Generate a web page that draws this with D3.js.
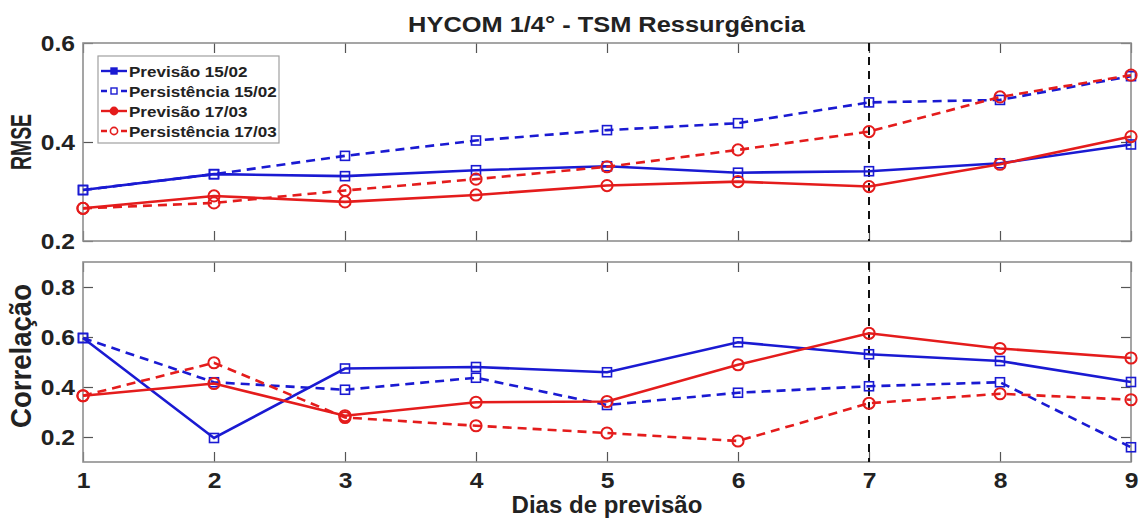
<!DOCTYPE html>
<html>
<head>
<meta charset="utf-8">
<script src="https://cdn.jsdelivr.net/npm/d3@7"></script>
<style>
  html, body { margin: 0; padding: 0; background: #fff; }
  svg { display: block; font-family: "Liberation Sans", Arial, Helvetica, sans-serif; }
</style>
</head>
<body>
<script>
// Forecast lead time (days)
const days = [1, 2, 3, 4, 5, 6, 7, 8, 9];

// RMSE of SST, upwelling region
const rmsePrev1502 = [0.303, 0.335, 0.331, 0.343, 0.351, 0.338, 0.341, 0.357, 0.395];
const rmsePers1502 = [0.303, 0.335, 0.372, 0.403, 0.424, 0.438, 0.480, 0.485, 0.533];
const rmsePrev1703 = [0.266, 0.291, 0.279, 0.293, 0.312, 0.320, 0.310, 0.355, 0.411];
const rmsePers1703 = [0.266, 0.277, 0.302, 0.325, 0.350, 0.384, 0.421, 0.491, 0.535];

// Correlation of SST, upwelling region
const corrPrev1502 = [0.596, 0.196, 0.474, 0.480, 0.459, 0.579, 0.531, 0.504, 0.420];
const corrPers1502 = [0.596, 0.419, 0.389, 0.437, 0.328, 0.377, 0.403, 0.419, 0.159];
const corrPrev1703 = [0.365, 0.414, 0.285, 0.339, 0.342, 0.489, 0.615, 0.554, 0.516];
const corrPers1703 = [0.365, 0.497, 0.278, 0.245, 0.216, 0.184, 0.335, 0.373, 0.349];

const seriesNames = ["Previsão 15/02", "Persistência 15/02", "Previsão 17/03", "Persistência 17/03"];
const rmseTicks = [0.2, 0.4, 0.6];
const corrTicks = [0.2, 0.4, 0.6, 0.8];
const markerDay = 7;

const titleText = "HYCOM 1/4° - TSM Ressurgência";
const xLabel = "Dias de previsão";

// ---- drawing ----
const W = 1143, H = 520;
const BLUE = "#1a1ad2", RED = "#e41c1c", TXT = "#222";
const styles = [
  { color: BLUE, dash: null, marker: "square" },
  { color: BLUE, dash: "9,6", marker: "square" },
  { color: RED, dash: null, marker: "circle" },
  { color: RED, dash: "9,6", marker: "circle" }
];

const svg = d3.select("body").append("svg")
  .attr("width", W).attr("height", H);
svg.append("rect").attr("width", W).attr("height", H).attr("fill", "#fff");

const x = d3.scaleLinear().domain([1, 9]).range([83, 1131]);

// stretch text horizontally about its anchor
function stretch(sel, sx) {
  sel.each(function () {
    const t = d3.select(this);
    const tx = +t.attr("x") || 0, ty = +t.attr("y") || 0;
    t.attr("x", 0).attr("y", 0)
      .attr("transform", `translate(${tx},${ty}) scale(${sx},1)`);
  });
}

const panels = [
  { y: d3.scaleLinear().domain([0.2, 0.6]).range([241, 43]), ticks: rmseTicks,
    data: [rmsePrev1502, rmsePers1502, rmsePrev1703, rmsePers1703],
    label: "RMSE", labelLen: 56, labelY: 142, xLabels: false },
  { y: d3.scaleLinear().domain([0.1, 0.9]).range([462, 262]), ticks: corrTicks,
    data: [corrPrev1502, corrPers1502, corrPrev1703, corrPers1703],
    label: "Correlação", labelLen: 144, labelY: 356, xLabels: true }
];

panels.forEach(p => {
  const g = svg.append("g");
  const [yb, yt] = p.y.range();

  // inward ticks on all four sides
  const tickStyle = sel => {
    sel.select(".domain").remove();
    sel.selectAll(".tick line").attr("stroke", "#555").attr("stroke-width", 1.2);
  };
  const left = g.append("g").attr("transform", `translate(${x(1)},0)`)
    .call(d3.axisLeft(p.y).tickValues(p.ticks).tickSizeInner(-10).tickSizeOuter(0)
      .tickPadding(8).tickFormat(d3.format(".1f")));
  tickStyle(left);
  left.selectAll("text").attr("fill", TXT).attr("font-size", 22).attr("font-weight", "bold");
  stretch(left.selectAll("text"), 1.12);

  const right = g.append("g").attr("transform", `translate(${x(9)},0)`)
    .call(d3.axisRight(p.y).tickValues(p.ticks).tickSizeInner(-10).tickSizeOuter(0).tickFormat(""));
  tickStyle(right);

  const top = g.append("g").attr("transform", `translate(0,${yt})`)
    .call(d3.axisTop(x).tickValues(days).tickSizeInner(-10).tickSizeOuter(0).tickFormat(""));
  tickStyle(top);

  const bottom = g.append("g").attr("transform", `translate(0,${yb})`)
    .call(d3.axisBottom(x).tickValues(days).tickSizeInner(-10).tickSizeOuter(0)
      .tickPadding(10).tickFormat(p.xLabels ? d3.format("d") : ""));
  tickStyle(bottom);
  bottom.selectAll("text").attr("fill", TXT).attr("font-size", 22).attr("font-weight", "bold");
  if (p.xLabels) stretch(bottom.selectAll("text"), 1.12);

  // box
  g.append("rect")
    .attr("x", x(1)).attr("y", yt)
    .attr("width", x(9) - x(1)).attr("height", yb - yt)
    .attr("fill", "none").attr("stroke", "#8f8f8f").attr("stroke-width", 1.6);

  // y label
  g.append("text")
    .attr("transform", `translate(31,${p.labelY}) scale(1.25,1) rotate(-90)`)
    .attr("text-anchor", "middle")
    .attr("font-size", 23).attr("font-weight", "bold").attr("fill", TXT)
    .attr("textLength", p.labelLen).attr("lengthAdjust", "spacingAndGlyphs")
    .text(p.label);

  // reference line at day 7
  g.append("line")
    .attr("x1", x(markerDay)).attr("x2", x(markerDay))
    .attr("y1", yt).attr("y2", yb)
    .attr("stroke", "#111").attr("stroke-width", 2).attr("stroke-dasharray", "8,6");

  // series
  const line = d3.line().x((d, i) => x(days[i])).y(d => p.y(d));
  p.data.forEach((vals, k) => {
    const s = styles[k];
    g.append("path").datum(vals)
      .attr("d", line)
      .attr("fill", "none").attr("stroke", s.color).attr("stroke-width", 2.6)
      .attr("stroke-dasharray", s.dash);
    const m = g.append("g");
    vals.forEach((v, i) => {
      if (s.marker === "square") {
        m.append("rect")
          .attr("x", x(days[i]) - 4.5).attr("y", p.y(v) - 4.5)
          .attr("width", 9).attr("height", 9)
          .attr("fill", "none").attr("stroke", s.color).attr("stroke-width", 1.6);
      } else {
        m.append("circle")
          .attr("cx", x(days[i])).attr("cy", p.y(v)).attr("r", 5.6)
          .attr("fill", "none").attr("stroke", s.color).attr("stroke-width", 2);
      }
    });
  });
});

// legend
const lg = svg.append("g");
lg.append("rect").attr("x", 98).attr("y", 56).attr("width", 181).attr("height", 87)
  .attr("fill", "#fff").attr("stroke", "#a0a0a0").attr("stroke-width", 1.2);
seriesNames.forEach((name, k) => {
  const s = styles[k];
  const cy = 71 + k * 20;
  lg.append("line").attr("x1", 101).attr("x2", 127).attr("y1", cy).attr("y2", cy)
    .attr("stroke", s.color).attr("stroke-width", 2.4)
    .attr("stroke-dasharray", s.dash ? "6,4" : null);
  const filled = k % 2 === 0;
  if (s.marker === "square") {
    lg.append("rect").attr("x", 111).attr("y", cy - 3).attr("width", 6).attr("height", 6)
      .attr("fill", filled ? s.color : "#fff").attr("stroke", s.color).attr("stroke-width", 1.4);
  } else {
    lg.append("circle").attr("cx", 114).attr("cy", cy).attr("r", 3.6)
      .attr("fill", filled ? s.color : "#fff").attr("stroke", s.color).attr("stroke-width", 1.6);
  }
  const t = lg.append("text").attr("x", 129).attr("y", cy + 6)
    .attr("font-size", 15.5).attr("font-weight", "bold").attr("fill", TXT).text(name);
  stretch(t, 1.1);
});

// title and x label
const tt = svg.append("text").attr("x", 606.5).attr("y", 32)
  .attr("text-anchor", "middle").attr("font-size", 22).attr("font-weight", "bold")
  .attr("fill", TXT).text(titleText);
stretch(tt, 1.155);

svg.append("text").attr("x", 607).attr("y", 513)
  .attr("text-anchor", "middle").attr("font-size", 24).attr("font-weight", "bold")
  .attr("fill", TXT).text(xLabel);
</script>
</body>
</html>
